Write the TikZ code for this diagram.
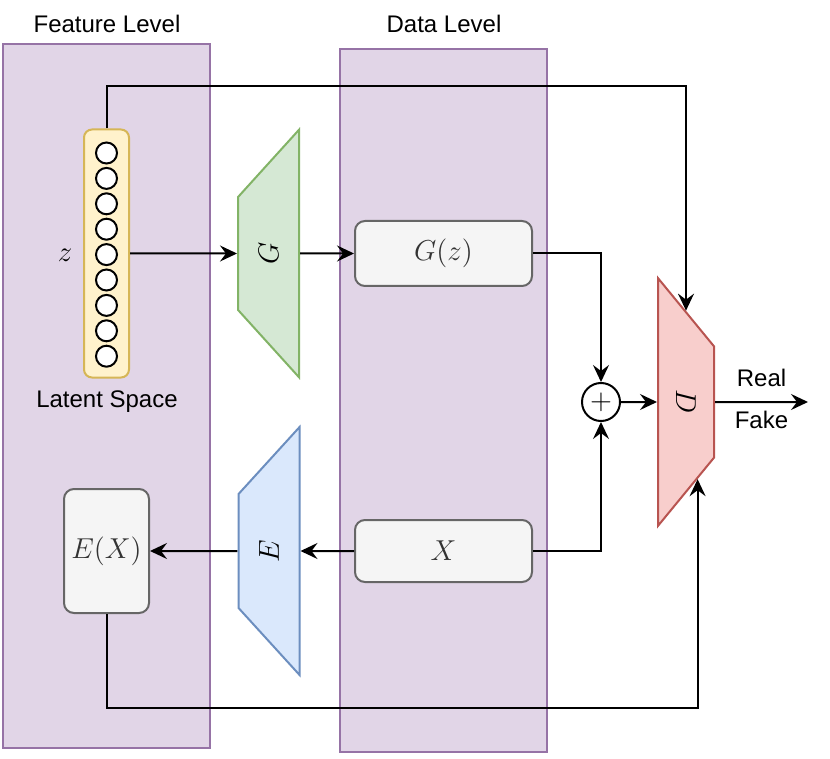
\documentclass[tikz,border=0pt]{standalone}
\usepackage[no-math]{fontspec}
\setmainfont{Liberation Sans}
\usetikzlibrary{shapes.geometric,arrows.meta,calc}
\definecolor{panelfill}{HTML}{E1D5E7}
\definecolor{panelline}{HTML}{9673A6}
\definecolor{latentfill}{HTML}{FFF2CC}
\definecolor{latentline}{HTML}{D6B656}
\definecolor{gfill}{HTML}{D5E8D4}
\definecolor{gline}{HTML}{82B366}
\definecolor{efill}{HTML}{DAE8FC}
\definecolor{eline}{HTML}{6C8EBF}
\definecolor{dfill}{HTML}{F8CECC}
\definecolor{dline}{HTML}{B85450}
\definecolor{boxfill}{HTML}{F5F5F5}
\definecolor{boxline}{HTML}{666666}
\definecolor{boxtext}{HTML}{333333}
\newcommand{\mathfont}{\fontsize{14.4}{17}\selectfont}
\tikzset{
  panneau/.style={draw=panelline, fill=panelfill, line width=1pt,
    minimum width=103.5pt, inner sep=0pt},
  boite/.style={draw=boxline, fill=boxfill, line width=1pt,
    rounded corners=5pt, text=boxtext, font=\mathfont},
  trapeze/.style 2 args={trapezium, trapezium angle=56,
    trapezium stretches=true, fill=#1, draw=#2, line width=1pt,
    minimum width=124pt, minimum height=30.5pt, inner sep=0pt, font=\mathfont},
  neurone/.style={circle, draw, fill=white, line width=1pt,
    minimum size=10.5pt, inner sep=0pt},
  fleche/.style={-{Stealth[length=8.5pt,width=8pt,inset=3pt]}, line width=1pt},
}

\begin{document}
\begin{tikzpicture}[x=0.5pt,y=-0.5pt,font=\fontsize{12}{14}\selectfont]
  \useasboundingbox (0,0) rectangle (830,759);
  % niveaux
  \node[panneau, minimum height=352pt] (feature) at (106.5,396) {};
  \node[panneau, minimum height=351.5pt] (data) at (443.5,400.5) {};
  \node (featurelbl) at (107,24) {Feature Level};
  \node (datalbl) at (444,24) {Data Level};
  % espace latent
  \node[draw=latentline, fill=latentfill, line width=1pt, rounded corners=4pt,
    minimum width=22.5pt, minimum height=124pt] (latent) at (106.5,253.5) {};
  \foreach \i in {0,...,8}
    \node[neurone] (n\i) at (106.5,{153+25.4*\i}) {};
  \node[font=\mathfont] (zlbl) at (65,255) {$z$};
  \node (latentlbl) at (107,402) {Latent Space};
  % generateur
  \node[trapeze={gfill}{gline}, rotate=90] (G) at (268.5,253.5) {$G$};
  \node[boite, minimum width=88.5pt, minimum height=32.5pt] (Gz) at (443.5,253.5) {$G(z)$};
  % encodeur
  \node[trapeze={efill}{eline}, rotate=90] (E) at (269,551) {$E$};
  \node[boite, minimum width=88.5pt, minimum height=31pt] (X) at (443.5,551) {$X$};
  \node[boite, minimum width=42.5pt, minimum height=62pt] (EX) at (106.5,551) {$E(X)$};
  % discriminateur
  \node[circle, draw, fill=white, line width=1pt, minimum size=19pt, inner sep=0pt,
    font=\mathfont] (somme) at (601,402) {$+$};
  \node[trapeze={dfill}{dline}, rotate=-90, trapezium angle=53,
    minimum height=28pt] (D) at (686,402) {$D$};
  \coordinate (Dhaut) at ($(D.bottom left corner)!0.5!(D.top left corner)$);
  \coordinate (Dbas) at ($(D.bottom right corner)!0.7!(D.top right corner)$);
  \coordinate (sortie) at (808,402);
  % fleches
  \draw[fleche] (latent.east) -- (G.north);
  \draw[fleche] (G.south) -- (Gz.west);
  \draw[fleche] (X.west) -- (E.south);
  \draw[fleche] (E.north) -- (EX.east);
  \draw[fleche] (Gz.east) -| (somme.north);
  \draw[fleche] (X.east) -| (somme.south);
  \draw[fleche] (somme.east) -- (D.south);
  \draw[fleche] (D.north) -- (sortie)
    node[midway, above=4pt] {Real} node[midway, below=0.5pt] {Fake};
  \draw[fleche] (latent.north) -- ++(0,-42) -| (Dhaut);
  \draw[fleche] (EX.south) -- ++(0,94) -| (Dbas);
\end{tikzpicture}
\end{document}
